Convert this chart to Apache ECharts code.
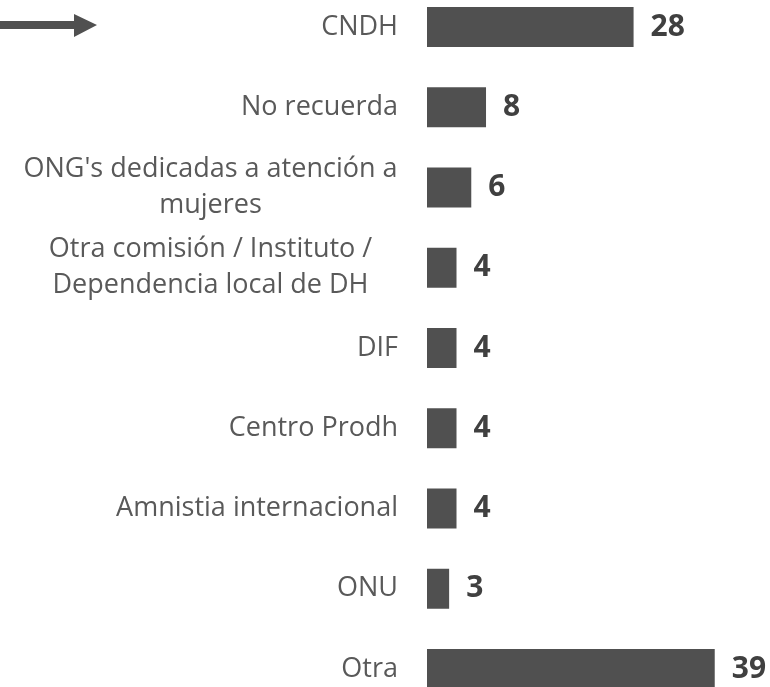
<!DOCTYPE html>
<html>
<head>
<meta charset="utf-8">
<script src="https://cdn.jsdelivr.net/npm/echarts@6/dist/echarts.min.js"></script>
<style>
    html, body { margin: 0; padding: 0; background: #fff; }
    #chart { width: 770px; height: 687px; }
</style>
</head>
<body>
<div id="chart"></div>
<script>
var categories = [
    'CNDH',
    'No recuerda',
    "ONG's dedicadas a atención a\nmujeres",
    'Otra comisión / Instituto /\nDependencia local de DH',
    'DIF',
    'Centro Prodh',
    'Amnistia internacional',
    'ONU',
    'Otra'
];
var values = [28, 8, 6, 4, 4, 4, 4, 3, 39];

var labelFont = '27px "Open Sans"';

// ancho de la linea mas larga, para centrar las etiquetas de dos lineas
function lineWidth(txt) {
    var ctx = document.createElement('canvas').getContext('2d');
    ctx.font = labelFont;
    var w = 0;
    txt.split('\n').forEach(function (l) {
        w = Math.max(w, ctx.measureText(l).width);
    });
    return Math.ceil(w);
}

var myChart = echarts.init(document.getElementById('chart'));

var option = {
    backgroundColor: '#ffffff',
    animation: false,
    grid: {
        left: 427,
        right: 11,
        top: 27,
        bottom: 18,
        containLabel: false
    },
    xAxis: {
        type: 'value',
        min: 0,
        max: 45,
        show: false
    },
    yAxis: {
        type: 'category',
        inverse: true,
        boundaryGap: false,
        data: categories,
        axisLine: { show: false },
        axisTick: { show: false },
        splitLine: { show: false },
        axisLabel: {
            margin: 29,
            color: '#595959',
            fontFamily: 'Open Sans',
            fontSize: 27,
            lineHeight: 36,
            formatter: function (val) {
                if (val.indexOf('\n') < 0) return val;
                return val.split('\n').map(function (l) {
                    return '{c|' + l + '}';
                }).join('\n');
            },
            rich: {
                c: {
                    width: Math.max(lineWidth(categories[2]), lineWidth(categories[3])),
                    align: 'center',
                    color: '#595959',
                    fontFamily: 'Open Sans',
                    fontSize: 27,
                    lineHeight: 36
                }
            }
        }
    },
    series: [{
        type: 'bar',
        data: values,
        barWidth: 40,
        itemStyle: { color: '#505050' },
        label: {
            show: true,
            position: 'right',
            distance: 17,
            color: '#404040',
            fontFamily: 'Open Sans',
            fontWeight: 'bold',
            fontSize: 30
        }
    }],
    graphic: [{
        type: 'polygon',
        shape: {
            points: [[0, 21], [74, 21], [74, 14], [97, 25], [74, 37], [74, 29], [0, 29]]
        },
        style: { fill: '#505050' }
    }]
};

myChart.setOption(option);
</script>
</body>
</html>
